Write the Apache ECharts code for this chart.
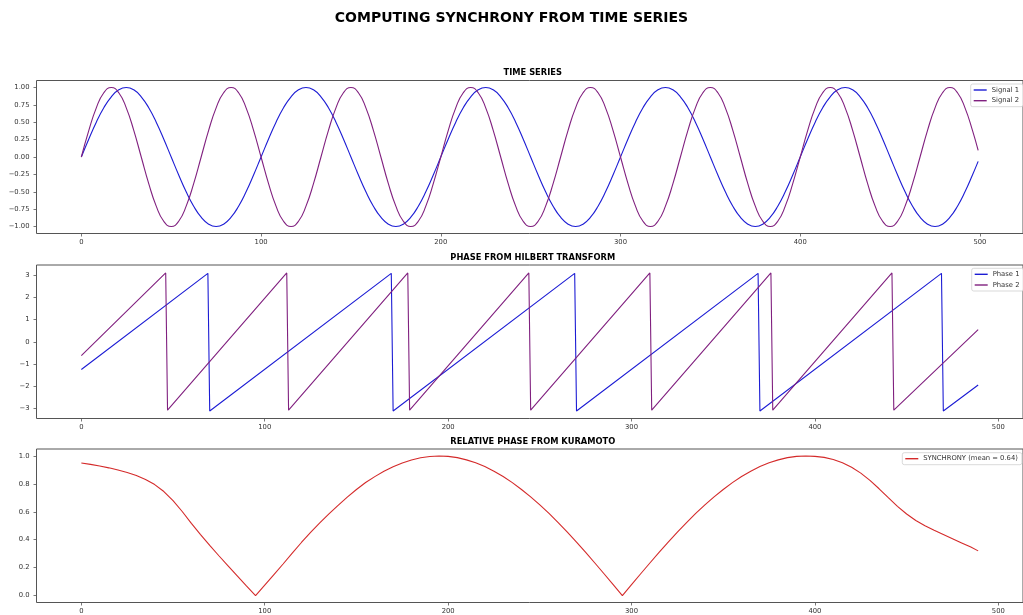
<!DOCTYPE html>
<html>
<head>
<meta charset="utf-8">
<title>Computing synchrony from time series</title>
<script src="https://cdn.jsdelivr.net/npm/echarts@6/dist/echarts.min.js"></script>
<style>
  html, body { margin: 0; padding: 0; background: #fff; }
  #chart { width: 1023px; height: 615px; }
</style>
</head>
<body>
<div id="chart"></div>
<script>
// ---- sample times for the two raw signals ----
const T = [
  0, 4.17, 8.33, 12.5, 16.67, 20.83, 25, 29.17, 33.33, 37.5, 41.67, 45.83,
  50, 54.17, 58.33, 62.5, 66.67, 70.83, 75, 79.17, 83.33, 87.5, 91.67, 95.83,
  100, 104.17, 108.33, 112.5, 116.67, 120.83, 125, 129.17, 133.33, 137.5, 141.67, 145.83,
  150, 154.17, 158.33, 162.5, 166.67, 170.83, 175, 179.17, 183.33, 187.5, 191.67, 195.83,
  200, 204.17, 208.33, 212.5, 216.67, 220.83, 225, 229.17, 233.33, 237.5, 241.67, 245.83,
  250, 254.17, 258.33, 262.5, 266.67, 270.83, 275, 279.17, 283.33, 287.5, 291.67, 295.83,
  300, 304.17, 308.33, 312.5, 316.67, 320.83, 325, 329.17, 333.33, 337.5, 341.67, 345.83,
  350, 354.17, 358.33, 362.5, 366.67, 370.83, 375, 379.17, 383.33, 387.5, 391.67, 395.83,
  400, 404.17, 408.33, 412.5, 416.67, 420.83, 425, 429.17, 433.33, 437.5, 441.67, 445.83,
  450, 454.17, 458.33, 462.5, 466.67, 470.83, 475, 479.17, 483.33, 487.5, 491.67, 495.83,
  499
];

// Signal 1 (slow oscillator)
const SIGNAL_1 = [
  0, 0.259, 0.5, 0.707, 0.866, 0.966, 1, 0.966, 0.866, 0.707, 0.5, 0.259,
  0, -0.259, -0.5, -0.707, -0.866, -0.966, -1, -0.966, -0.866, -0.707, -0.5, -0.259,
  0, 0.259, 0.5, 0.707, 0.866, 0.966, 1, 0.966, 0.866, 0.707, 0.5, 0.259,
  0, -0.259, -0.5, -0.707, -0.866, -0.966, -1, -0.966, -0.866, -0.707, -0.5, -0.259,
  0, 0.259, 0.5, 0.707, 0.866, 0.966, 1, 0.966, 0.866, 0.707, 0.5, 0.259,
  0, -0.259, -0.5, -0.707, -0.866, -0.966, -1, -0.966, -0.866, -0.707, -0.5, -0.259,
  0, 0.259, 0.5, 0.707, 0.866, 0.966, 1, 0.966, 0.866, 0.707, 0.5, 0.259,
  0, -0.259, -0.5, -0.707, -0.866, -0.966, -1, -0.966, -0.866, -0.707, -0.5, -0.259,
  0, 0.259, 0.5, 0.707, 0.866, 0.966, 1, 0.966, 0.866, 0.707, 0.5, 0.259,
  0, -0.259, -0.5, -0.707, -0.866, -0.966, -1, -0.966, -0.866, -0.707, -0.5, -0.259,
  -0.063
];

// Signal 2 (faster oscillator)
const SIGNAL_2 = [
  0, 0.383, 0.707, 0.924, 1, 0.924, 0.707, 0.383,
  0, -0.383, -0.707, -0.924, -1, -0.924, -0.707, -0.383,
  0, 0.383, 0.707, 0.924, 1, 0.924, 0.707, 0.383,
  0, -0.383, -0.707, -0.924, -1, -0.924, -0.707, -0.383,
  0, 0.383, 0.707, 0.924, 1, 0.924, 0.707, 0.383,
  0, -0.383, -0.707, -0.924, -1, -0.924, -0.707, -0.383,
  0, 0.383, 0.707, 0.924, 1, 0.924, 0.707, 0.383,
  0, -0.383, -0.707, -0.924, -1, -0.924, -0.707, -0.383,
  0, 0.383, 0.707, 0.924, 1, 0.924, 0.707, 0.383,
  0, -0.383, -0.707, -0.924, -1, -0.924, -0.707, -0.383,
  0, 0.383, 0.707, 0.924, 1, 0.924, 0.707, 0.383,
  0, -0.383, -0.707, -0.924, -1, -0.924, -0.707, -0.383,
  0, 0.383, 0.707, 0.924, 1, 0.924, 0.707, 0.383,
  0, -0.383, -0.707, -0.924, -1, -0.924, -0.707, -0.383,
  0, 0.383, 0.707, 0.924, 1, 0.924, 0.707, 0.383,
  0.094
];

// ---- wrapped instantaneous phase (vertices of the sawtooth) ----
const PHASE_1_T = [0, 69, 70, 169, 170, 269, 270, 369, 370, 469, 470, 489];
const PHASE_1 = [-1.25, 3.08, -3.12, 3.08, -3.12, 3.08, -3.12, 3.08, -3.12, 3.08, -3.12, -1.95];

const PHASE_2_T = [0, 46, 47, 112, 113, 178, 179, 244, 245, 310, 311, 376, 377, 442, 443, 489];
const PHASE_2 = [-0.62, 3.1, -3.08, 3.1, -3.08, 3.1, -3.08, 3.1, -3.08, 3.1, -3.08, 3.1, -3.08, 3.1, -3.08, 0.55];

// ---- Kuramoto synchrony ----
const SYNC_T = [
  0, 5, 10, 15, 20, 25, 30, 35, 40, 45, 50, 55, 60, 65, 70, 75, 80, 85, 90, 95,
  100, 105, 110, 115, 120, 125, 130, 135, 140, 145, 150, 155, 160, 165, 170, 175, 180, 185, 190, 195,
  200, 205, 210, 215, 220, 225, 230, 235, 240, 245, 250, 255, 260, 265, 270, 275, 280, 285, 290, 295,
  300, 305, 310, 315, 320, 325, 330, 335, 340, 345, 350, 355, 360, 365, 370, 375, 380, 385, 390, 395,
  400, 405, 410, 415, 420, 425, 430, 435, 440, 445, 450, 455, 460, 465, 470, 475, 480, 485, 489
];
const SYNC = [
  0.95, 0.94, 0.928, 0.915, 0.9, 0.882, 0.86, 0.832, 0.795, 0.745, 0.68, 0.602, 0.517, 0.437, 0.36, 0.285, 0.212, 0.14, 0.069, 0.0,
  0.075, 0.15, 0.226, 0.304, 0.38, 0.452, 0.52, 0.585, 0.646, 0.705, 0.76, 0.81, 0.852, 0.89, 0.923, 0.95, 0.971, 0.987, 0.996, 1.0,
  0.997, 0.988, 0.972, 0.951, 0.924, 0.891, 0.853, 0.809, 0.76, 0.707, 0.649, 0.588, 0.522, 0.454, 0.383, 0.309, 0.233, 0.156, 0.078, 0.0,
  0.078, 0.156, 0.233, 0.309, 0.383, 0.454, 0.522, 0.588, 0.649, 0.707, 0.76, 0.809, 0.853, 0.891, 0.924, 0.951, 0.972, 0.988, 0.997, 1.0,
  0.997, 0.99, 0.975, 0.951, 0.919, 0.877, 0.825, 0.765, 0.701, 0.639, 0.584, 0.538, 0.5, 0.467, 0.437, 0.407, 0.377, 0.347, 0.32
];
const SYNC_MEAN = 0.64;

// ---- tick values ----
const X_TICKS = [0, 100, 200, 300, 400, 500];
const Y1_TICKS = [-1, -0.75, -0.5, -0.25, 0, 0.25, 0.5, 0.75, 1];
const Y2_TICKS = [-3, -2, -1, 0, 1, 2, 3];
const Y3_TICKS = [0, 0.2, 0.4, 0.6, 0.8, 1.0];

// ---- titles / names ----
const MAIN_TITLE = 'COMPUTING SYNCHRONY FROM TIME SERIES';
const PANEL_TITLES = ['TIME SERIES', 'PHASE FROM HILBERT TRANSFORM', 'RELATIVE PHASE FROM KURAMOTO'];
const SYNC_NAME = 'SYNCHRONY (mean = ' + SYNC_MEAN.toFixed(2) + ')';

const FONT = 'DejaVu Sans';
const BLUE = '#1c1cd4';
const PURPLE = '#80207f';
const RED = '#d42a2a';
const FRAME = '#555555';
const TEXT = '#333333';

const pairs = (xs, ys) => xs.map((x, i) => [x, ys[i]]);
const minus = s => s.replace('-', '\u2212');

const GRID_LEFT = 36.5, GRID_W = 992.5;
const grids = [
  { left: GRID_LEFT, width: GRID_W, top: 80.5, height: 153 },
  { left: GRID_LEFT, width: GRID_W, top: 265, height: 153.5 },
  { left: GRID_LEFT, width: GRID_W, top: 449, height: 153.5 }
].map(g => Object.assign(g, { show: true, borderColor: FRAME, borderWidth: 1, backgroundColor: 'transparent' }));

function xAxis(gridIndex, min, max) {
  return {
    type: 'value', gridIndex, min, max, position: 'bottom',
    axisLine: { show: false, onZero: false },
    splitLine: { show: false },
    axisTick: { show: true, length: 3, customValues: X_TICKS, lineStyle: { color: FRAME, width: 0.8 } },
    axisLabel: { customValues: X_TICKS, margin: 5, fontFamily: FONT, fontSize: 6.8, color: TEXT,
                 formatter: v => minus(String(v)) }
  };
}
function yAxis(gridIndex, min, max, ticks, fmt) {
  return {
    type: 'value', gridIndex, min, max, position: 'left',
    axisLine: { show: false, onZero: false },
    splitLine: { show: false },
    axisTick: { show: true, length: 3, customValues: ticks, lineStyle: { color: FRAME, width: 0.8 } },
    axisLabel: { customValues: ticks, margin: 7, fontFamily: FONT, fontSize: 6.8, color: TEXT, formatter: fmt }
  };
}

function lineSeries(name, data, color, xi, smooth) {
  return {
    type: 'line', name, data, xAxisIndex: xi, yAxisIndex: xi,
    showSymbol: false, symbol: 'none', smooth: smooth || false,
    lineStyle: { color, width: 1.1 }, itemStyle: { color },
    animation: false, z: 2
  };
}

function legend(names, left, top) {
  return {
    data: names, left, top, orient: 'vertical',
    icon: 'rect', itemWidth: 13, itemHeight: 1.4, itemGap: 2.7,
    padding: [2, 4, 2, 3],
    backgroundColor: 'rgba(255,255,255,0.85)', borderColor: '#cfcfcf', borderWidth: 0.8, borderRadius: 2,
    textStyle: { fontFamily: FONT, fontSize: 6.8, color: TEXT, lineHeight: 8 },
    selectedMode: false, z: 10
  };
}

const chart = echarts.init(document.getElementById('chart'), null, { renderer: 'canvas' });
chart.setOption({
  backgroundColor: '#ffffff',
  animation: false,
  title: [
    { text: MAIN_TITLE, left: 511.5, top: 11, textAlign: 'center', padding: 0,
      textStyle: { fontFamily: FONT, fontSize: 14, fontWeight: 'bold', color: '#000', lineHeight: 14 } },
    { text: PANEL_TITLES[0], left: GRID_LEFT + GRID_W / 2, top: 69, textAlign: 'center', padding: 0,
      textStyle: { fontFamily: FONT, fontSize: 8.3, fontWeight: 'bold', color: '#000', lineHeight: 8.3 } },
    { text: PANEL_TITLES[1], left: GRID_LEFT + GRID_W / 2, top: 253.4, textAlign: 'center', padding: 0,
      textStyle: { fontFamily: FONT, fontSize: 8.3, fontWeight: 'bold', color: '#000', lineHeight: 8.3 } },
    { text: PANEL_TITLES[2], left: GRID_LEFT + GRID_W / 2, top: 437.9, textAlign: 'center', padding: 0,
      textStyle: { fontFamily: FONT, fontSize: 8.3, fontWeight: 'bold', color: '#000', lineHeight: 8.3 } }
  ],
  legend: [
    legend(['Signal 1', 'Signal 2'], 970.7, 84),
    legend(['Phase 1', 'Phase 2'], 971.7, 268.3),
    legend([SYNC_NAME], 902.3, 452.7)
  ],
  grid: grids,
  xAxis: [
    xAxis(0, -24.95, 523.95),
    xAxis(1, -24.45, 513.45),
    xAxis(2, -24.45, 513.45)
  ],
  yAxis: [
    yAxis(0, -1.1, 1.1, Y1_TICKS, v => minus(v.toFixed(2))),
    yAxis(1, -3.456, 3.456, Y2_TICKS, v => minus(String(v))),
    yAxis(2, -0.05, 1.05, Y3_TICKS, v => v.toFixed(1))
  ],
  series: [
    lineSeries('Signal 1', pairs(T, SIGNAL_1), BLUE, 0, 0.5),
    lineSeries('Signal 2', pairs(T, SIGNAL_2), PURPLE, 0, 0.5),
    lineSeries('Phase 1', pairs(PHASE_1_T, PHASE_1), BLUE, 1),
    lineSeries('Phase 2', pairs(PHASE_2_T, PHASE_2), PURPLE, 1),
    lineSeries(SYNC_NAME, pairs(SYNC_T, SYNC), RED, 2)
  ]
});
</script>
</body>
</html>
